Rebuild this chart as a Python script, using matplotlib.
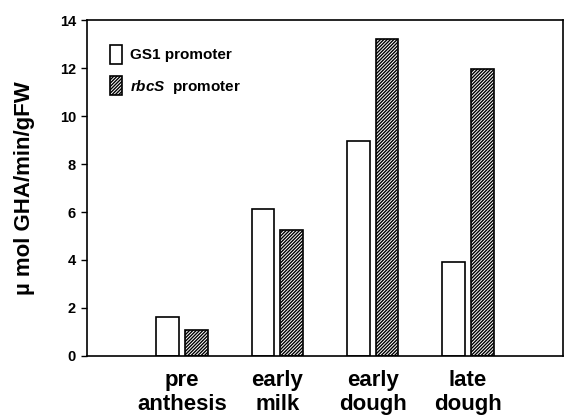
import numpy as np
import matplotlib
matplotlib.use("Agg")
from matplotlib import pyplot as plt

plt.rcParams['font.family'] = ['Liberation Sans', 'DejaVu Sans']
plt.rcParams['font.weight'] = 'bold'
plt.rcParams['mathtext.fontset'] = 'custom'
plt.rcParams['mathtext.it'] = 'Liberation Sans:italic:bold'
plt.rcParams['mathtext.rm'] = 'Liberation Sans:bold'
plt.rcParams['hatch.linewidth'] = 1.0

stages = ['pre\nanthesis', 'early\nmilk', 'early\ndough', 'late\ndough']
gs1 = [1.64, 6.12, 8.97, 3.9]
rbcs = [1.08, 5.25, 13.2, 11.96]

fig = plt.figure(figsize=(5.66, 4.17), dpi=100)
ax = fig.add_axes([0.1537, 0.1463, 0.841, 0.8057])

x = np.arange(1, len(stages) + 1)
w = 0.24
ax.bar(x - 0.152, gs1, w, color='white', edgecolor='black', linewidth=1.2,
       label='GS1 promoter')
ax.bar(x + 0.152, rbcs, w, color='white', edgecolor='black', linewidth=1.2,
       hatch='/' * 10, label=r'$\it{rbcS}$  promoter')

ax.set_xlim(0, 5)
ax.set_ylim(0, 14)
ax.set_yticks(range(0, 15, 2))
ax.set_xticks(x)
ax.set_xticklabels(stages, fontsize=16, fontweight='bold')
ax.tick_params(axis='x', length=0, pad=10)
ax.tick_params(axis='y', direction='out', length=4, width=1, labelsize=10.5, pad=4)
for t in ax.get_yticklabels():
    t.set_fontweight('bold')
for s in ax.spines.values():
    s.set_linewidth(1.2)

ax.set_ylabel(u'\u00b5 mol GHA/min/gFW', fontsize=16, fontweight='bold', labelpad=18)

ax.legend(loc='upper left', bbox_to_anchor=(0.035, 0.945), frameon=False,
          fontsize=11, handlelength=0.8, handleheight=1.6, handletextpad=0.5,
          labelspacing=0.75, borderaxespad=0)

fig.savefig('out.png', dpi=100)
